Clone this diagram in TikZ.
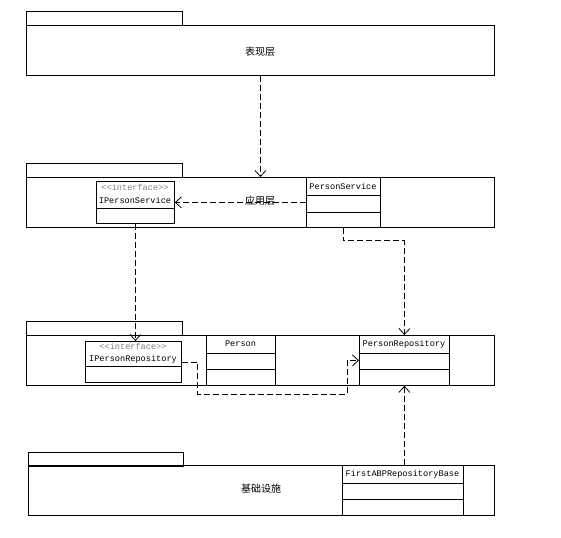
\documentclass[tikz,border=0pt]{standalone}
\usepackage{fontspec}
\setmonofont{Liberation Mono}
\newfontfamily\cjk{Noto Sans CJK SC}
\usetikzlibrary{arrows.meta}

\tikzset{
  pkgtab/.style={draw, anchor=north west, inner sep=0pt, minimum width=156pt, minimum height=14pt},
  pkgbody/.style={draw, anchor=north west, inner sep=0pt, minimum width=468pt, minimum height=50pt},
  pkglbl/.style={inner sep=0pt, font=\cjk\fontsize{10}{12}\selectfont},
  classbox/.style={draw, anchor=north west, inner sep=0pt},
  clsname/.style={inner sep=0pt, font=\ttfamily\fontsize{8.6}{10}\selectfont},
  stereo/.style={clsname, text=black!50},
  dep/.style={dash pattern=on 6pt off 3pt, -{Straight Barb[length=6pt,width=11pt]}}
}

\begin{document}
\begin{tikzpicture}[x=1pt,y=-1pt,line width=0.8pt]
  \useasboundingbox (0,0) rectangle (561,537);
  % presentation layer
  \node[pkgtab] (uitab) at (26,11) {};
  \node[pkgbody] (ui) at (26,25) {};
  \node[pkglbl] (uilbl) at (260,52) {表现层};
  % application layer
  \node[pkgtab] (apptab) at (26,163) {};
  \node[pkgbody] (app) at (26,177) {};
  \node[pkglbl] (applbl) at (260,201) {应用层};
  \node[classbox, minimum width=78pt, minimum height=42pt] (ips) at (96,181) {};
  \draw (96,208) -- (174,208);
  \node[stereo] (ipsst) at (135,187) {<<interface>>};
  \node[clsname] (ipsname) at (135,200) {IPersonService};
  \node[classbox, minimum width=74pt, minimum height=50pt] (ps) at (306,177) {};
  \draw (306,195) -- (380,195);
  \draw (306,212) -- (380,212);
  \node[clsname] (psname) at (343,186) {PersonService};
  % domain layer
  \node[pkgtab] (domtab) at (26,321) {};
  \node[pkgbody] (dom) at (26,335) {};
  \node[classbox, minimum width=96pt, minimum height=41pt] (ipr) at (85,341) {};
  \draw (85,366) -- (181,366);
  \node[stereo] (iprst) at (133,346) {<<interface>>};
  \node[clsname] (iprname) at (133,359) {IPersonRepository};
  \node[classbox, minimum width=69pt, minimum height=50pt] (per) at (206,335) {};
  \draw (206,353) -- (275,353);
  \draw (206,369) -- (275,369);
  \node[clsname] (pername) at (240.5,344) {Person};
  \node[classbox, minimum width=90pt, minimum height=50pt] (prp) at (359,335) {};
  \draw (359,353) -- (449,353);
  \draw (359,369) -- (449,369);
  \node[clsname] (prpname) at (404,344) {PersonRepository};
  % infrastructure layer
  \node[pkgtab, minimum width=155pt] (inftab) at (28,452) {};
  \node[pkgbody, minimum width=466pt] (inf) at (28,465) {};
  \node[pkglbl] (inflbl) at (261,489) {基础设施};
  \node[classbox, minimum width=121pt, minimum height=50pt] (fab) at (342,465) {};
  \draw (342,483) -- (463,483);
  \draw (342,499) -- (463,499);
  \node[clsname] (fabname) at (402.5,474) {FirstABPRepositoryBase};
  % dependencies
  \draw[dep] (ui.south) -- (app.north);
  \draw[dep] (ps.west) -- (ips.east);
  \draw[dep] (ips.south) -- (ips.south |- ipr.north);
  \draw[dep] (ps.south) -- ++(0,13) -| (prp.north);
  \draw[dep] (ipr.east) -- ++(16,0) |- (347,394) |- (prp.west);
  \draw[dep] (prp.south |- fab.north) -- (prp.south);
\end{tikzpicture}
\end{document}
